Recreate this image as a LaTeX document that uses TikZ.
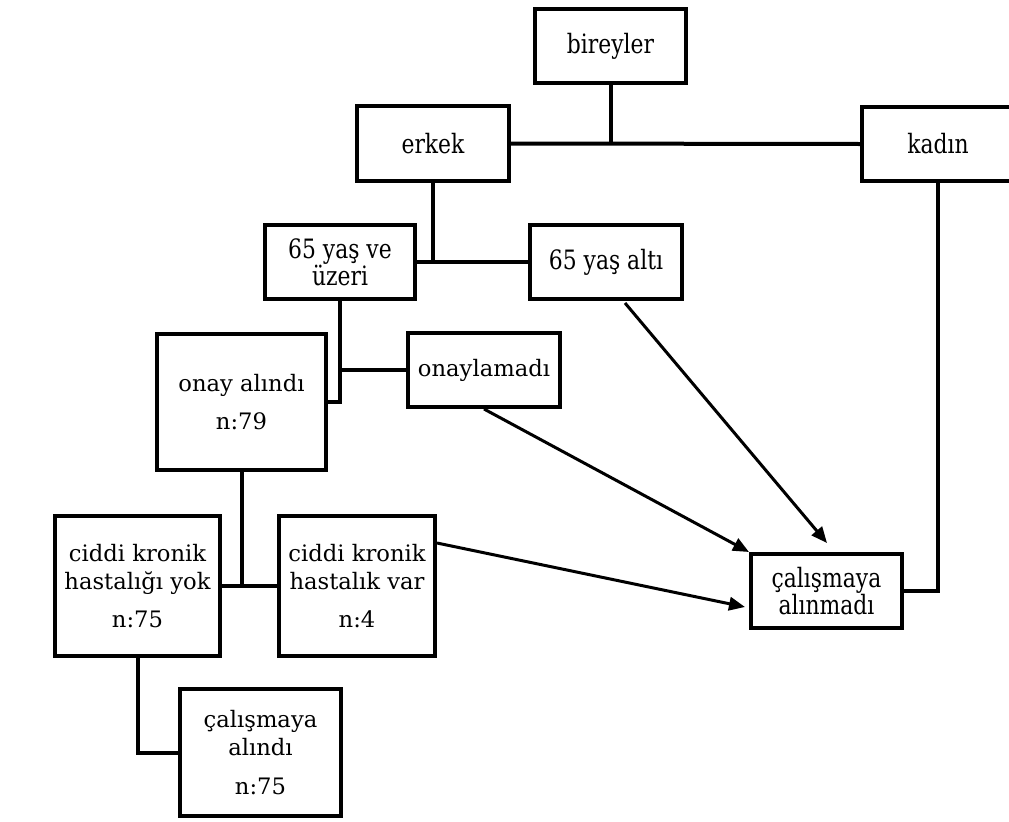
\documentclass[tikz,border=0pt]{standalone}
\usepackage{fontspec}
\setmainfont{DejaVu Serif}
\newfontfamily\condserif[FakeStretch=0.82]{DejaVu Serif}
\usetikzlibrary{calc,arrows.meta}
\tikzset{
  box/.style={draw=black, line width=3pt, fill=white, inner sep=2pt, align=center,
    font=\fontsize{17}{21}\selectfont},
  cbox/.style={box, font=\condserif\fontsize{20}{20.5}\selectfont},
  conn/.style={draw=black, line width=3pt},
  arr/.style={draw=black, line width=2.25pt, -{Triangle[length=12pt,width=10pt]}}
}
\begin{document}
\begin{tikzpicture}[x=0.75pt,y=-0.75pt]
\useasboundingbox (0,0) rectangle (1009,821);
\fill[white] (0,0) rectangle (1009,821);

% nodes
\node[cbox, minimum width=113.25pt, minimum height=55.5pt] (bireyler) at (610.5,46) {bireyler};
\node[cbox, minimum width=114pt, minimum height=56.25pt] (erkek) at (433,143.5) {erkek};
\node[cbox, minimum width=114pt, minimum height=55.5pt] (kadin) at (938,144) {kadın};
\node[cbox, minimum width=112.5pt, minimum height=55.5pt] (y65u) at (340,262) {65 yaş ve\\üzeri};
\node[cbox, minimum width=114pt, minimum height=55.5pt] (y65a) at (606,262) {65 yaş altı};
\node[box, minimum width=126.75pt, minimum height=102pt] (onay) at (241.5,402) {onay alındı\\[8pt]n:79};
\node[box, minimum width=114pt, minimum height=55.5pt] (onaylamadi) at (484,370) {onaylamadı};
\node[box, minimum width=123.75pt, minimum height=105pt] (cyok) at (137.5,586) {ciddi kronik\\hastalığı yok\\[8pt]n:75};
\node[box, minimum width=117pt, minimum height=105pt] (cvar) at (357,586) {ciddi kronik\\hastalık var\\[8pt]n:4};
\node[box, minimum width=120.75pt, minimum height=95.25pt] (alindi) at (260.5,752.5) {çalışmaya\\alındı\\[8pt]n:75};
\node[cbox, minimum width=113.25pt, minimum height=55.5pt] (alinmadi) at (826.5,591) {çalışmaya\\alınmadı};

% tree connectors
\draw[conn] (bireyler.south) -- (bireyler.south |- erkek.east);
\draw[conn] (erkek.east) -- (kadin.west);
\draw[conn] (erkek.south) -- (erkek.south |- y65u.east);
\draw[conn] (y65u.east) -- (y65a.west);
\draw[conn] (y65u.south) |- (onay.east);
\draw[conn] (y65u.south |- onaylamadi.west) -- (onaylamadi.west);
\draw[conn] (onay.south) |- (cyok.east);
\draw[conn] (onay.south |- cvar.west) -- (cvar.west);
\draw[conn] (cyok.south) |- (alindi.west);
\draw[conn] (kadin.south) |- (alinmadi.east);

% arrows
\coordinate (a1s) at ($(y65a.south)+(19,2)$);
\coordinate (a1e) at ($(alinmadi.north)+(0.5,-9)$);
\coordinate (a3s) at ($(cvar.east)+(0,-43)$);
\coordinate (a3e) at ($(alinmadi.west)+(-4,16)$);
\draw[arr] (a1s) -- (a1e);
\draw[arr] (onaylamadi.south) -- (alinmadi.north west);
\draw[arr] (a3s) -- (a3e);
\end{tikzpicture}
\end{document}
